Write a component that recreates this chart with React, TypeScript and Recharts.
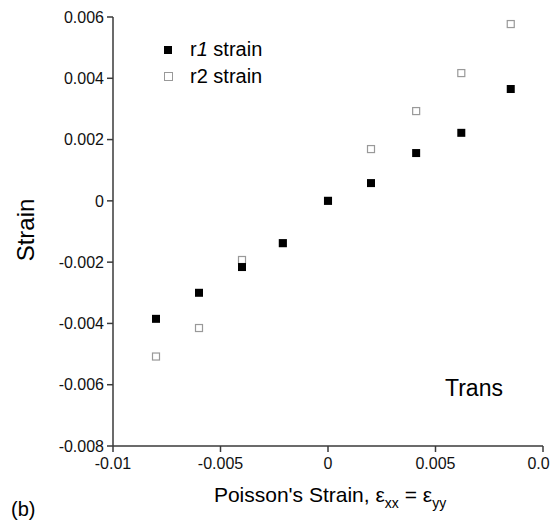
import React from 'react';
import { ScatterChart, Scatter, XAxis, YAxis, Label } from 'recharts';

// Poisson's strain (x) and measured strains r1 / r2 (y)
const poissonStrain = [-0.008, -0.006, -0.004, -0.0021, 0, 0.002, 0.0041, 0.0062, 0.0085];
const r1Strain = [-0.00385, -0.003, -0.00216, -0.00138, 0, 0.00058, 0.00156, 0.00222, 0.00365];
const r2Strain = [-0.00508, -0.00415, -0.00193, -0.00138, 0, 0.00169, 0.00293, 0.00417, 0.00577];

const xTicks = [-0.01, -0.005, 0, 0.005, 0.01];
const yTicks = [-0.008, -0.006, -0.004, -0.002, 0, 0.002, 0.004, 0.006];

const r1Data = poissonStrain.map((x, i) => ({ x, y: r1Strain[i] }));
const r2Data = poissonStrain.map((x, i) => ({ x, y: r2Strain[i] }));

const FONT = 'Arial, "Liberation Sans", sans-serif';
const AXIS = '#3a3a3a';

const FilledSquare = (props: any) => {
  const { cx, cy } = props;
  return <rect x={cx - 4} y={cy - 4} width={8} height={8} fill="#000" />;
};

const OpenSquare = (props: any) => {
  const { cx, cy } = props;
  return <rect x={cx - 3.5} y={cy - 3.5} width={7} height={7} fill="#fff" stroke="#999" strokeWidth={1.2} />;
};

const LegendBox = () => (
  <div style={{ position: 'absolute', left: 164, top: 36, fontFamily: FONT, fontSize: 20, color: '#000', lineHeight: '27px' }}>
    <div style={{ display: 'flex', alignItems: 'center' }}>
      <span style={{ display: 'inline-block', width: 8, height: 8, background: '#000', marginRight: 18 }} />
      <span>r<i>1</i> strain</span>
    </div>
    <div style={{ display: 'flex', alignItems: 'center' }}>
      <span style={{ display: 'inline-block', width: 7, height: 7, border: '1px solid #999', marginRight: 17 }} />
      <span>r2 strain</span>
    </div>
  </div>
);

const XTitle = (props: any) => {
  const { viewBox } = props;
  const cx = viewBox.x + viewBox.width / 2;
  return (
    <text x={cx + 2} y={502} textAnchor="middle" fontFamily={FONT} fontSize={21} fill="#000">
      Poisson's Strain, ε
      <tspan fontSize={14} dy={6}>xx</tspan>
      <tspan dy={-6}> = ε</tspan>
      <tspan fontSize={14} dy={6}>yy</tspan>
    </text>
  );
};

const YTitle = () => (
  <text
    x={34}
    y={230}
    transform="rotate(-90 34 230)"
    textAnchor="middle"
    fontFamily={FONT}
    fontSize={24}
    fill="#000"
  >
    Strain
  </text>
);

export default function App() {
  return (
    <div style={{ margin: -8, position: 'relative', width: 558, height: 528, background: '#fff' }}>
      <ScatterChart width={558} height={528} margin={{ top: 17, right: 15, left: 53, bottom: 52 }}>
        <XAxis
          type="number"
          dataKey="x"
          domain={[-0.01, 0.01]}
          ticks={xTicks}
          interval={0}
          height={30}
          tickSize={6}
          tickMargin={6}
          stroke={AXIS}
          strokeWidth={1.5}
          tick={{ fill: '#111', fontSize: 16, fontFamily: FONT }}
        >
          <Label content={<XTitle />} />
        </XAxis>
        <YAxis
          type="number"
          dataKey="y"
          domain={[-0.008, 0.006]}
          ticks={yTicks}
          interval={0}
          width={60}
          tickSize={6}
          tickMargin={3}
          stroke={AXIS}
          strokeWidth={1.5}
          tick={{ fill: '#111', fontSize: 16, fontFamily: FONT }}
        >
          <Label content={<YTitle />} />
        </YAxis>
        <Scatter name="r2 strain" data={r2Data} shape={<OpenSquare />} isAnimationActive={false} />
        <Scatter name="r1 strain" data={r1Data} shape={<FilledSquare />} isAnimationActive={false} />
      </ScatterChart>
      <LegendBox />
      <div style={{ position: 'absolute', left: 445, top: 375, fontFamily: FONT, fontSize: 23, color: '#000' }}>Trans</div>
      <div style={{ position: 'absolute', left: 11, top: 498, fontFamily: FONT, fontSize: 20, color: '#000' }}>(b)</div>
    </div>
  );
}
